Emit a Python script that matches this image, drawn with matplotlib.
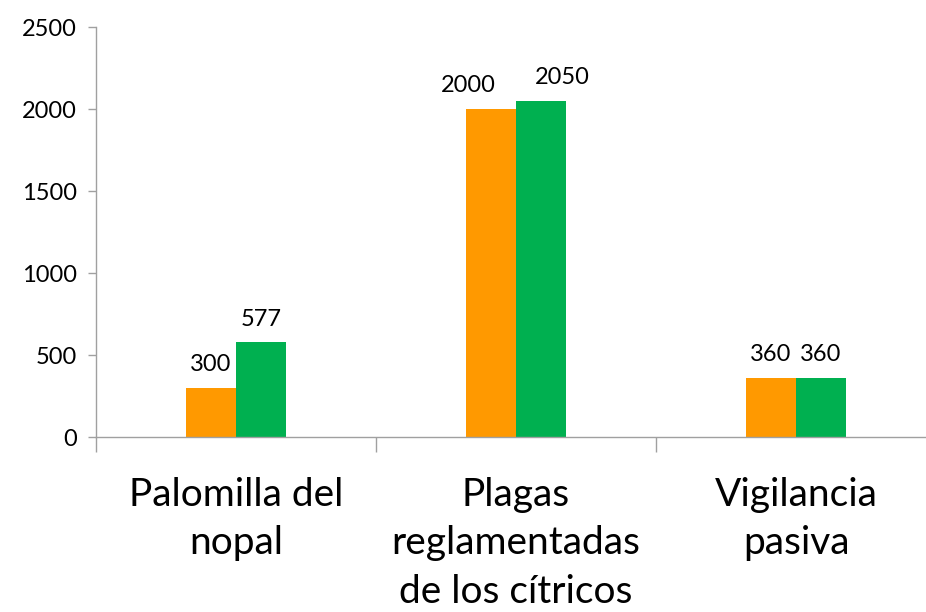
import matplotlib.pyplot as plt
import numpy as np

categories = ["Palomilla del\nnopal", "Plagas\nreglamentadas\nde los cítricos", "Vigilancia\npasiva"]
serie_a = [300, 2000, 360]
serie_b = [577, 2050, 360]
y_ticks = [0, 500, 1000, 1500, 2000, 2500]

orange = "#FF9900"
green = "#00B050"
axis_gray = "#A0A0A0"

plt.rcParams["font.family"] = ["Lato", "DejaVu Sans"]

fig = plt.figure(figsize=(9.26, 6.12), dpi=100)
ax = fig.add_axes([96 / 926, 175 / 612, 840 / 926, 410 / 612])

x = np.arange(len(categories))
width = 50 / 280

bars_a = ax.bar(x - width / 2, serie_a, width, color=orange)
bars_b = ax.bar(x + width / 2, serie_b, width, color=green)

# Excel nudged the two middle labels apart so they don't collide
nudge = {(0, 1): -16, (1, 1): 15}

for si, bars in enumerate((bars_a, bars_b)):
    for ci, b in enumerate(bars):
        ax.annotate(
            f"{int(b.get_height())}",
            (b.get_x() + b.get_width() / 2, b.get_height()),
            xytext=(nudge.get((si, ci), 0), 9),
            textcoords="offset points",
            ha="center",
            va="bottom",
            fontsize=17,
        )

ax.set_xlim(-0.5, len(categories) - 0.5)
ax.set_ylim(0, 2500)
ax.set_yticks(y_ticks)
ax.tick_params(axis="y", labelsize=17, length=6, width=1, color=axis_gray, pad=8)

# boundaries as major ticks, labels as minor ticks at centers
ax.set_xticks(np.arange(len(categories) + 1) - 0.5)
ax.set_xticklabels([])
ax.tick_params(axis="x", which="major", length=11, width=1, color=axis_gray)
ax.set_xticks(x, minor=True)
ax.set_xticklabels(categories, minor=True, fontsize=28, linespacing=1.42)
ax.tick_params(axis="x", which="minor", length=0, pad=29)

for s in ("top", "right"):
    ax.spines[s].set_visible(False)
for s in ("left", "bottom"):
    ax.spines[s].set_color(axis_gray)
    ax.spines[s].set_linewidth(1)

fig.savefig("out.png", dpi=100)
